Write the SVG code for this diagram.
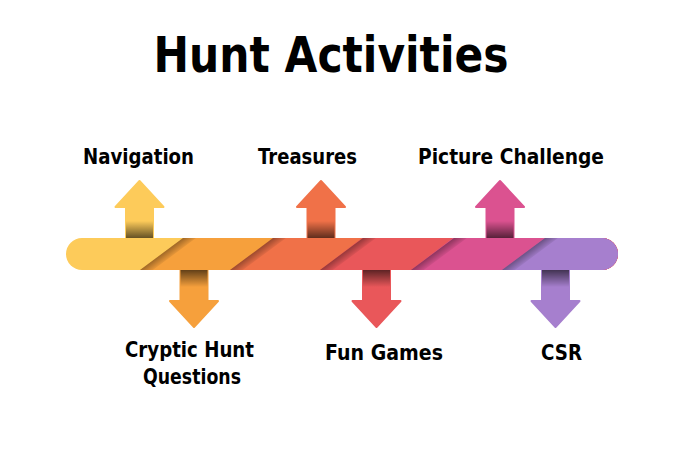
<svg xmlns="http://www.w3.org/2000/svg" xmlns:xlink="http://www.w3.org/1999/xlink" width="683" height="450" viewBox="0 0 683 450">
<style>
text{font-family:"DejaVu Sans","Liberation Sans",sans-serif;font-weight:bold;fill:#000;}
.lbl{font-size:20.5px;}
.title{font-size:49px;}
.arr{stroke-linejoin:round;stroke-width:2;}
</style>
<defs>
<clipPath id="barClip"><rect x="66" y="238" width="552" height="32" rx="16"/></clipPath>
<linearGradient id="shUp" x1="0" y1="0" x2="0" y2="1">
<stop offset="0" stop-color="#000" stop-opacity="0"/>
<stop offset="0.45" stop-color="#000" stop-opacity="0"/>
<stop offset="1" stop-color="#000" stop-opacity="0.6"/>
</linearGradient>
<linearGradient id="shDn" x1="0" y1="1" x2="0" y2="0">
<stop offset="0" stop-color="#000" stop-opacity="0"/>
<stop offset="0.45" stop-color="#000" stop-opacity="0"/>
<stop offset="1" stop-color="#000" stop-opacity="0.6"/>
</linearGradient>
<linearGradient id="diagSh" gradientUnits="userSpaceOnUse" x1="21.5" y1="16" x2="27" y2="23.5">
<stop offset="0" stop-color="#000" stop-opacity="0.35"/>
<stop offset="1" stop-color="#000" stop-opacity="0"/>
</linearGradient>
<polygon id="dsh" points="43,0 56,0 13,32 0,32" fill="url(#diagSh)"/>
<path id="upA" d="M0,0 L24,26 L13.5,26 L13.5,57 L-13.5,57 L-13.5,26 L-24,26 Z"/>
<path id="dnA" d="M0,0 L24,-26 L13.5,-26 L13.5,-57 L-13.5,-57 L-13.5,-26 L-24,-26 Z"/>
</defs>

<g id="title"><text class="title" x="331" y="72" text-anchor="middle" textLength="355" lengthAdjust="spacingAndGlyphs">Hunt Activities</text></g>

<g id="connectors">
<g id="timeline" clip-path="url(#barClip)">
<rect x="66" y="238" width="552" height="32" fill="#FDCB5A"/>
<polygon points="183,238 640,238 640,270 140,270" fill="#F6A03C"/>
<polygon points="273,238 640,238 640,270 230,270" fill="#F07148"/>
<polygon points="362,238 640,238 640,270 320,270" fill="#E9575A"/>
<polygon points="453,238 640,238 640,270 411,270" fill="#DB5290"/>
<polygon points="545,238 640,238 640,270 502,270" fill="#A67FCE"/>
<use xlink:href="#dsh" href="#dsh" transform="translate(140,238)"/>
<use xlink:href="#dsh" href="#dsh" transform="translate(230,238)"/>
<use xlink:href="#dsh" href="#dsh" transform="translate(320,238)"/>
<use xlink:href="#dsh" href="#dsh" transform="translate(411,238)"/>
<use xlink:href="#dsh" href="#dsh" transform="translate(502,238)"/>
</g>
</g>

<g id="navigation">
<use xlink:href="#upA" href="#upA" class="arr" transform="translate(139.5,181)" fill="#FDCB5A" stroke="#FDCB5A"/>
<rect x="126" y="207" width="27" height="31" fill="url(#shUp)"/>
<text class="lbl" x="138.5" y="164" text-anchor="middle" textLength="111" lengthAdjust="spacingAndGlyphs">Navigation</text>
</g>

<g id="treasures">
<use xlink:href="#upA" href="#upA" class="arr" transform="translate(321,181)" fill="#F07148" stroke="#F07148"/>
<rect x="307.5" y="207" width="27" height="31" fill="url(#shUp)"/>
<text class="lbl" x="307.5" y="164" text-anchor="middle" textLength="99" lengthAdjust="spacingAndGlyphs">Treasures</text>
</g>

<g id="picture-challenge">
<use xlink:href="#upA" href="#upA" class="arr" transform="translate(500,181)" fill="#DB5290" stroke="#DB5290"/>
<rect x="486.5" y="207" width="27" height="31" fill="url(#shUp)"/>
<text class="lbl" x="511" y="164" text-anchor="middle" textLength="186" lengthAdjust="spacingAndGlyphs">Picture Challenge</text>
</g>

<g id="cryptic-hunt">
<use xlink:href="#dnA" href="#dnA" class="arr" transform="translate(194,327)" fill="#F6A03C" stroke="#F6A03C"/>
<rect x="180.5" y="270" width="27" height="31" fill="url(#shDn)"/>
<text class="lbl" x="189.5" y="357" text-anchor="middle" textLength="129" lengthAdjust="spacingAndGlyphs">Cryptic Hunt</text>
<text class="lbl" x="192" y="384" text-anchor="middle" textLength="98" lengthAdjust="spacingAndGlyphs">Questions</text>
</g>

<g id="fun-games">
<use xlink:href="#dnA" href="#dnA" class="arr" transform="translate(376.5,327)" fill="#E9575A" stroke="#E9575A"/>
<rect x="363" y="270" width="27" height="31" fill="url(#shDn)"/>
<text class="lbl" x="384" y="360" text-anchor="middle" textLength="118" lengthAdjust="spacingAndGlyphs">Fun Games</text>
</g>

<g id="csr">
<use xlink:href="#dnA" href="#dnA" class="arr" transform="translate(555.5,327)" fill="#A67FCE" stroke="#A67FCE"/>
<rect x="542" y="270" width="27" height="31" fill="url(#shDn)"/>
<text class="lbl" x="561.5" y="360" text-anchor="middle" textLength="41" lengthAdjust="spacingAndGlyphs">CSR</text>
</g>
</svg>
